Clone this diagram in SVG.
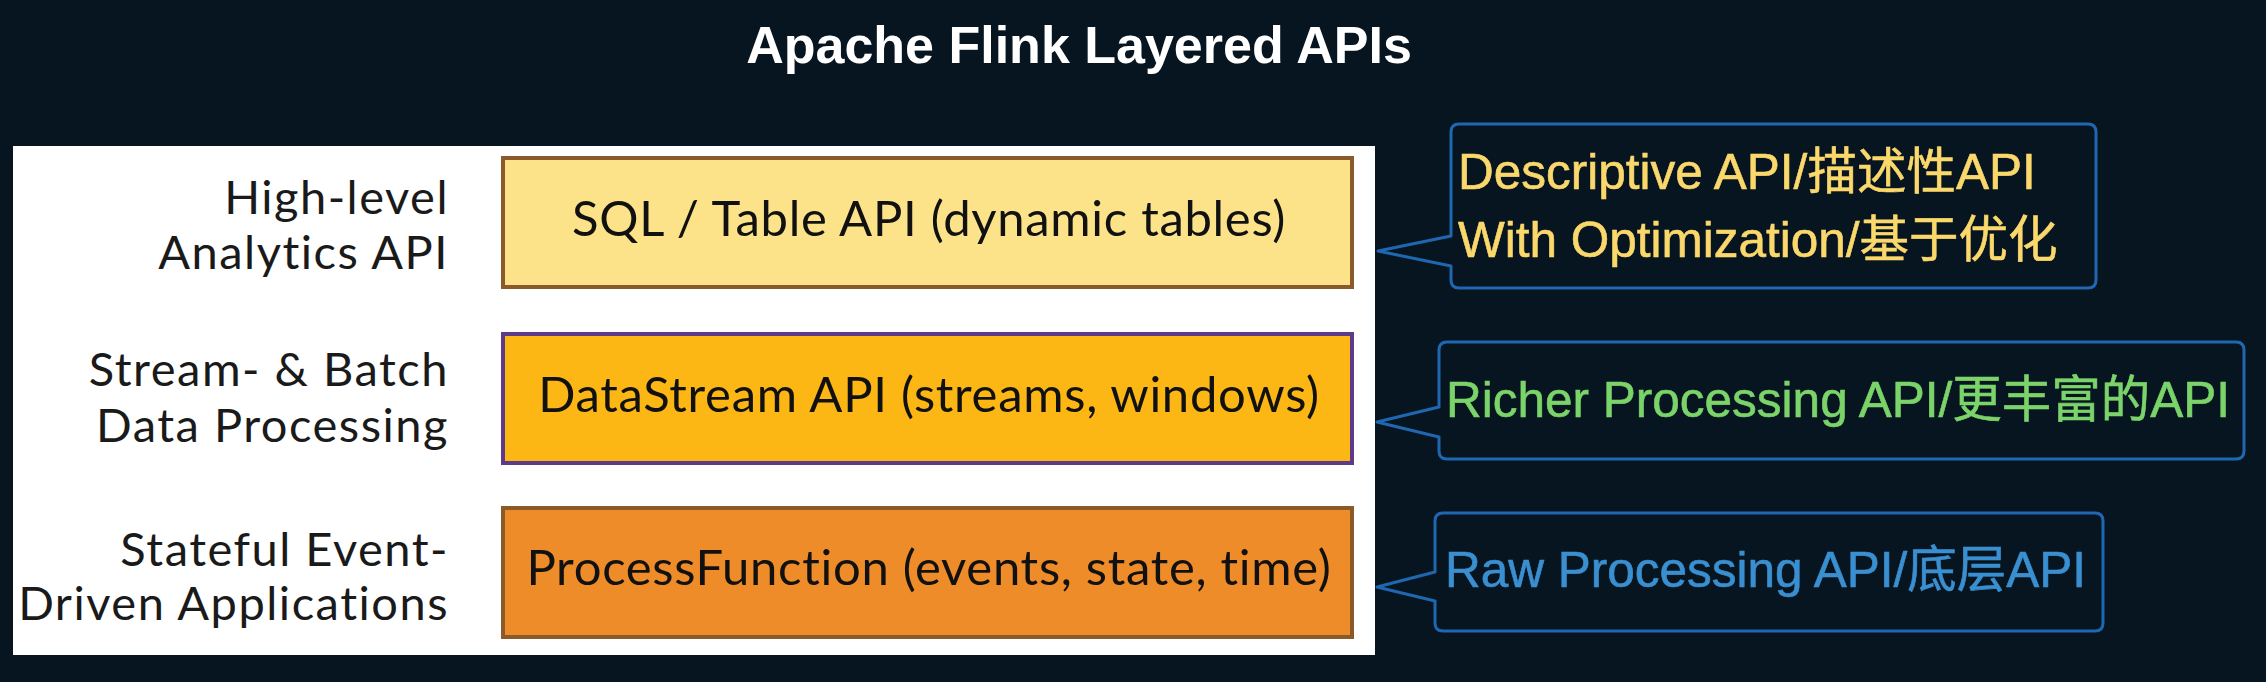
<svg xmlns="http://www.w3.org/2000/svg" width="2266" height="682" viewBox="0 0 2266 682">
<style>
.title{font-family:"Liberation Sans",Arial,sans-serif;font-weight:bold;font-size:52px;fill:#ffffff}
.lbl{font-family:Lato,"Open Sans",sans-serif;font-size:47px;letter-spacing:1.5px;fill:#1a1a1a;text-anchor:end}
.box{stroke-width:4}
.btxt{font-family:Lato,"Open Sans",sans-serif;font-size:49px;letter-spacing:0.7px;fill:#111111;text-anchor:middle}
.call{fill:#071521;stroke:#1f67b0;stroke-width:3;stroke-linejoin:round}
.ctxt{font-family:"Liberation Sans",Arial,"Noto Sans CJK SC",sans-serif;font-size:49.5px;stroke-width:0.6px}
</style>
<rect x="0" y="0" width="2266" height="682" fill="#071521"/>
<text class="title" x="1079" y="63" text-anchor="middle">Apache Flink Layered APIs</text>
<rect x="13" y="146" width="1362" height="509" fill="#ffffff"/>
<g id="label-high">
<text class="lbl" x="449" y="214">High-level</text>
<text class="lbl" x="449" y="269">Analytics API</text>
</g>
<g id="label-stream">
<text class="lbl" x="449" y="386">Stream- &amp; Batch</text>
<text class="lbl" x="449" y="442">Data Processing</text>
</g>
<g id="label-stateful">
<text class="lbl" x="449" y="566">Stateful Event-</text>
<text class="lbl" x="449" y="620">Driven Applications</text>
</g>
<g id="sql">
<rect class="box" x="503" y="158" width="849" height="129" fill="#fce38a" stroke="#8b5a2b"/>
<text class="btxt" x="929" y="236">SQL / Table API (dynamic tables)</text>
</g>
<g id="datastream">
<rect class="box" x="503" y="334" width="849" height="129" fill="#fdb714" stroke="#5e3a8a"/>
<text class="btxt" x="929" y="412">DataStream API (streams, windows)</text>
</g>
<g id="processfunction">
<rect class="box" x="503" y="508" width="849" height="129" fill="#ef8c2a" stroke="#8b5a2b"/>
<text class="btxt" x="929" y="585">ProcessFunction (events, state, time)</text>
</g>
<g id="callout-descriptive">
<path class="call" d="M1459,124 H2088 Q2096,124 2096,132 V280 Q2096,288 2088,288 H1459 Q1451,288 1451,280 V266 L1378,251 L1451,236 V132 Q1451,124 1459,124 Z"/>
<text class="ctxt" x="1458" y="189" fill="#fbd86b" stroke="#fbd86b">Descriptive API/描述性API</text>
<text class="ctxt" x="1458" y="257" fill="#fbd86b" stroke="#fbd86b">With Optimization/基于优化</text>
</g>
<g id="callout-richer">
<path class="call" d="M1447,342 H2236 Q2244,342 2244,350 V451 Q2244,459 2236,459 H1447 Q1439,459 1439,451 V437 L1377,422 L1439,407 V350 Q1439,342 1447,342 Z"/>
<text class="ctxt" x="1446" y="417" fill="#7bd46a" stroke="#7bd46a">Richer Processing API/更丰富的API</text>
</g>
<g id="callout-raw">
<path class="call" d="M1443,513 H2095 Q2103,513 2103,521 V623 Q2103,631 2095,631 H1443 Q1435,631 1435,623 V601 L1377,587 L1435,572 V521 Q1435,513 1443,513 Z"/>
<text class="ctxt" x="1445" y="587" fill="#3a8fd0" stroke="#3a8fd0">Raw Processing API/底层API</text>
</g>
</svg>
